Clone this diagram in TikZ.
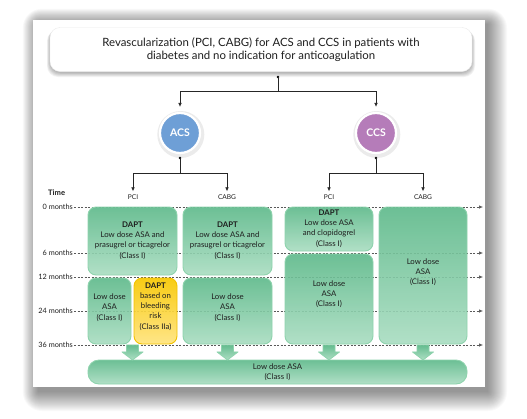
\documentclass[tikz,border=0pt]{standalone}
\usepackage{fontspec}
\setmainfont{Lato}
\usetikzlibrary{arrows.meta,calc}
\definecolor{gtop}{HTML}{5DB98A}
\definecolor{gbot}{HTML}{A9DDC1}
\definecolor{gline}{HTML}{8ED3AD}
\definecolor{ytop}{HTML}{F8C800}
\definecolor{ybot}{HTML}{FFE47E}
\definecolor{yline}{HTML}{F2C200}
\definecolor{acsc}{HTML}{6E9FD6}
\definecolor{ccsc}{HTML}{B57CB9}
\definecolor{txt}{HTML}{1E1E1E}
\begin{document}
\begin{tikzpicture}[x=1pt,y=-1pt,
  conn/.style={draw=black!85, line width=0.7pt, -{Latex[length=4pt,width=3.6pt]}},
  startdot/.style={circle, fill=black, inner sep=0pt, minimum size=2.6pt},
  tline/.style={draw=black!65, line width=0.6pt, dash pattern=on 2pt off 1.5pt, -{Latex[length=4pt,width=3.4pt]}},
  mlabel/.style={anchor=east, inner sep=1pt, font=\fontsize{7.3}{8}\selectfont, text=txt},
  blabel/.style={font=\fontsize{6.6}{7}\selectfont, text=txt, inner sep=1pt},
  gbox/.style={draw=gline, line width=0.9pt, rounded corners=8pt, top color=gtop, bottom color=gbot, fill opacity=0.9, inner sep=0pt},
  ybox/.style={draw=yline, line width=0.9pt, rounded corners=8pt, top color=ytop, bottom color=ybot, fill opacity=0.92, inner sep=0pt},
  btext/.style={align=center, font=\fontsize{7.8}{10.2}\selectfont, text=txt, inner sep=0pt},
  circ/.style={circle, minimum size=40pt, inner sep=0pt, draw=white, line width=2.2pt, text=white, font=\bfseries\fontsize{10.5}{12}\selectfont}
]
\useasboundingbox (0,0) rectangle (527,418);
\fill[white] (0,0) rectangle (527,418);
% panel shadow
\foreach \i in {0,...,19}{
  \fill[black, opacity=0.024, rounded corners=\i pt] (33-\i*0.8+5, 20-\i*0.8+4) rectangle (485+\i+3, 387+\i+5);
}
\fill[white] (33,20) rectangle (485,387);
% title box shadow
\foreach \i in {0,...,5}{
  \fill[black, opacity=0.05, rounded corners=11pt] (50-\i*0.6, 28+\i*0.4) rectangle (472+\i*0.6, 73+\i*0.8);
}
\node[draw=black!8, fill=white, rounded corners=10pt, minimum width=422pt, minimum height=44pt, align=center,
      font=\fontsize{11.4}{12.6}\selectfont, text=txt] (title) at (261,49.5)
  {Revascularization (PCI, CABG) for ACS and CCS in patients with\\ diabetes and no indication for anticoagulation};

% circles with soft shadow
\foreach \cx in {180,376}{
  \fill[black, opacity=0.08] (\cx+0.8,134.5) circle (23.5pt);
}
\node[circ, fill=acsc] (acs) at (180,133) {ACS};
\node[circ, fill=ccsc] (ccs) at (376,133) {CCS};

% title connectors
\coordinate (t0) at (278,77);
\node[startdot] at (t0) {};
\draw[conn, shorten >=5pt] (t0) -- ++(0,14) -| (acs.north);
\draw[conn, shorten >=5pt] (t0) -- ++(0,14) -| (ccs.north);

% branch labels
\node[blabel] (apl) at (133,197) {PCI};
\node[blabel] (acl) at (227,197) {CABG};
\node[blabel] (cpl) at (329,197) {PCI};
\node[blabel] (ccl) at (423,197) {CABG};

\coordinate (a0) at (180,158);
\coordinate (c0) at (376,158);
\node[startdot] at (a0) {};
\node[startdot] at (c0) {};
\draw[conn, shorten >=2pt] (a0) -- ++(0,15) -| (apl.north);
\draw[conn, shorten >=2pt] (a0) -- ++(0,15) -| (acl.north);
\draw[conn, shorten >=2pt] (c0) -- ++(0,15) -| (cpl.north);
\draw[conn, shorten >=2pt] (c0) -- ++(0,15) -| (ccl.north);

% time axis
\node[anchor=west, inner sep=0pt, font=\bfseries\fontsize{7.6}{8}\selectfont, text=txt] (time) at (48,193) {Time};
\foreach \n/\y/\t in {m0/207/0 months, m6/253/6 months, m12/277/12 months, m24/311/24 months, m36/345/36 months}{
  \node[mlabel] (\n) at (74,\y) {\t};
  \coordinate (e\n) at (483,\y);
  \draw[tline] (\n.east) -- (e\n);
}

% boxes
\node[gbox, minimum width=89pt, minimum height=68pt] (apD) at (132.5,241) {};
\node[gbox, minimum width=89pt, minimum height=68pt] (acD) at (227.5,241) {};
\node[gbox, minimum width=43pt, minimum height=66pt] (apA) at (109.5,311) {};
\node[ybox, minimum width=43pt, minimum height=66pt] (apY) at (155.5,311) {};
\node[gbox, minimum width=89pt, minimum height=66pt] (acA) at (227.5,311) {};
\node[gbox, minimum width=88pt, minimum height=44pt] (cpD) at (329,229) {};
\node[gbox, minimum width=88pt, minimum height=90pt] (cpA) at (329,299) {};
\node[gbox, minimum width=88pt, minimum height=137pt] (ccA) at (423,275.5) {};
\node[gbox, rounded corners=11pt, minimum width=379pt, minimum height=24pt] (fin) at (277.5,372) {};

% fat arrows
\coordinate (f1) at ($(apA.south east)!0.5!(apY.south west)$);
\coordinate (f2) at (acA.south);
\coordinate (f3) at (cpA.south);
\coordinate (f4) at (ccA.south);
\foreach \f in {f1,f2,f3,f4}{
  \draw[draw=gline, line width=0.8pt, top color=gtop, bottom color=gbot, fill opacity=0.95, line join=round]
    ($(\f)+(-6,0.5)$) -- ($(\f)+(6,0.5)$) -- ($(\f)+(6,7.5)$) -- ($(\f)+(10.5,7.5)$) -- ($(\f)+(0,15.5)$)
    -- ($(\f)+(-10.5,7.5)$) -- ($(\f)+(-6,7.5)$) -- cycle;
}

% box texts
\node[btext] (apDt) at (132.5,240.5) {\textbf{DAPT}\\Low dose ASA and\\prasugrel or ticagrelor\\(Class I)};
\node[btext] (acDt) at (227.5,240.5) {\textbf{DAPT}\\Low dose ASA and\\prasugrel or ticagrelor\\(Class I)};
\node[btext] (apAt) at (109.5,307.5) {Low dose\\ASA\\(Class I)};
\node[btext] (apYt) at (155.5,306.5) {\textbf{DAPT}\\based on\\bleeding\\risk\\(Class IIa)};
\node[btext] (acAt) at (227.5,307.5) {Low dose\\ASA\\(Class I)};
\node[btext] (cpDt) at (329,228.5) {\textbf{DAPT}\\Low dose ASA\\and clopidogrel\\(Class I)};
\node[btext] (cpAt) at (329,294) {Low dose\\ASA\\(Class I)};
\node[btext] (ccAt) at (423,272) {Low dose\\ASA\\(Class I)};
\node[btext] (fint) at (277.5,372) {Low dose ASA\\(Class I)};
\end{tikzpicture}
\end{document}
